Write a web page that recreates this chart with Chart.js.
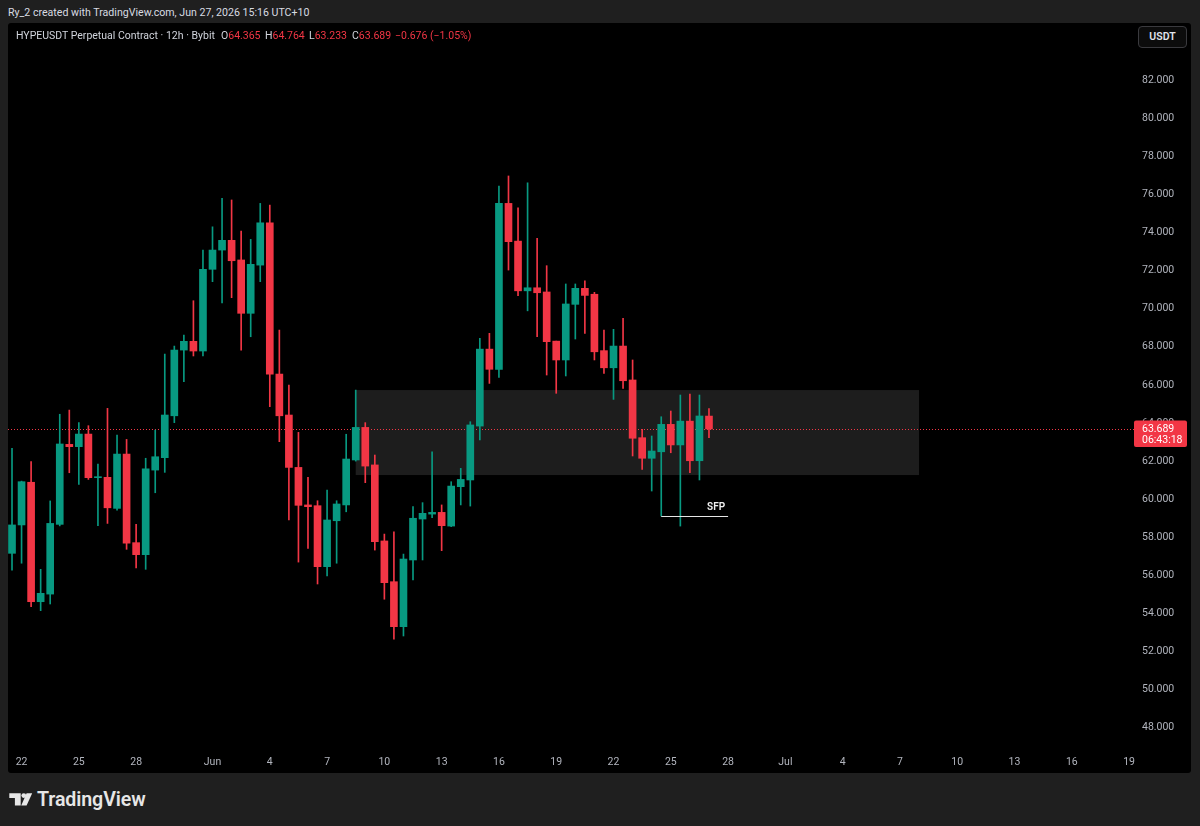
<!DOCTYPE html>
<html>
<head>
<meta charset="utf-8">
<script src="https://cdn.jsdelivr.net/npm/chart.js@4.4.1/dist/chart.umd.min.js"></script>
<style>
html,body{margin:0;padding:0;background:#1f1f1f;width:1200px;height:826px;overflow:hidden;font-family:Roboto,"Noto Sans",sans-serif;}
#wrap{position:absolute;left:8px;top:23px;width:1183px;height:750px;background:#000;border-radius:3px;overflow:hidden;}
#c{position:absolute;left:0;top:0;}
.t{position:absolute;white-space:nowrap;line-height:14px;}
.hd{font-size:10.5px;color:#d1d4dc;}
.r{color:#f23645;}
#usdt{position:absolute;left:1138px;top:26px;width:47px;height:20px;border:1px solid #3a3a3e;border-radius:4px;background:#0c0c0c;color:#e0e3eb;font-size:10.5px;font-weight:600;line-height:20px;text-align:center;}
#logo{position:absolute;left:37px;top:787px;font-size:19.6px;font-weight:600;color:#e6e6e6;line-height:26px;letter-spacing:-0.1px;}
</style>
</head>
<body>
<div class="t" style="left:8px;top:6px;font-size:10.6px;color:#d8dbe2;">Ry_2 created with TradingView.com, Jun 27, 2026 15:16 UTC+10</div>
<div id="wrap"><canvas id="c" width="1183" height="750"></canvas></div>
<div class="t hd" style="left:16px;top:29px;">HYPEUSDT Perpetual Contract · 12h · Bybit</div>
<div class="t hd" style="left:221px;top:29px;">O<span class="r">64.365</span></div>
<div class="t hd" style="left:265px;top:29px;">H<span class="r">64.764</span></div>
<div class="t hd" style="left:309px;top:29px;">L<span class="r">63.233</span></div>
<div class="t hd" style="left:352px;top:29px;">C<span class="r">63.689</span></div>
<div class="t hd r" style="left:395px;top:29px;">−0.676 (−1.05%)</div>
<div id="usdt">USDT</div>
<svg style="position:absolute;left:9px;top:793px" width="24" height="13" viewBox="0 0 24 13">
<path d="M0.3 0.3H11.7V12.5H5.9V4.9H0.3Z" fill="#e6e6e6"/>
<circle cx="14.8" cy="2.6" r="2.4" fill="#e6e6e6"/>
<path d="M17.6 0.3H23.2L17.6 12.5H12.2Z" fill="#e6e6e6"/>
</svg>
<div id="logo">TradingView</div>
<script>
// ---- data (12h candles, HYPEUSDT, from May 21 22:00 to Jun 27 10:00 UTC+10) ----
const candleOpen = [57.16,58.65,60.89,54.62,55.02,58.68,62.88,62.76,63.42,61.13,
  61.15,59.52,62.37,57.72,57.09,61.53,62.18,64.38,67.83,68.29,
  67.78,72.07,73.08,73.59,72.56,69.76,72.29,74.51,66.57,64.42,
  61.67,59.70,59.66,56.46,58.87,59.70,62.06,63.77,61.80,57.81,
  55.67,53.31,56.81,58.96,59.22,59.31,58.59,60.66,61.01,63.84,
  67.88,66.82,75.53,73.55,70.94,71.10,70.88,68.30,67.31,70.23,
  71.07,70.76,67.80,66.90,68.04,66.26,63.23,62.15,62.49,63.93,
  62.85,64.10,62.02,64.365];
const candleHigh = [62.67,60.95,61.97,56.32,59.91,64.46,64.68,64.02,63.86,61.85,
  64.77,63.37,63.14,58.68,62.15,63.63,67.62,68.04,68.62,70.42,
  73.08,74.30,75.80,75.71,74.08,73.64,75.53,75.44,68.88,65.99,
  63.51,61.15,59.92,60.48,59.92,63.41,65.73,64.02,62.32,58.17,
  58.29,57.12,59.61,59.82,62.49,59.70,60.92,61.62,64.07,68.45,
  68.71,76.44,76.97,75.30,76.61,73.70,72.26,68.30,71.30,71.30,
  71.47,70.86,68.88,68.92,69.50,67.31,63.67,63.32,64.33,64.63,
  65.47,65.52,65.47,64.764];
const candleLow = [56.28,56.64,54.36,54.15,54.50,58.60,61.39,60.78,61.04,58.61,
  58.73,59.43,57.37,56.40,56.32,60.34,61.41,64.02,66.17,67.52,
  67.52,71.42,70.31,70.58,67.83,68.53,71.42,64.86,63.02,58.91,
  56.70,57.42,55.55,55.98,56.64,59.34,62.00,60.87,57.33,54.75,
  52.65,52.82,55.76,56.81,59.03,57.30,58.56,59.70,59.64,63.11,
  66.08,66.40,72.03,70.68,69.89,68.53,66.52,65.56,66.47,68.41,
  68.71,67.31,66.61,65.24,65.82,62.27,61.57,60.43,59.12,62.44,
  58.59,61.39,61.01,63.233];
const candleClose = [58.65,60.92,54.62,55.06,58.73,62.90,62.76,63.42,61.13,61.18,
  59.55,62.37,57.69,57.09,61.59,62.23,64.42,67.83,68.29,67.78,
  72.07,73.08,73.59,72.52,69.76,72.33,74.51,66.56,64.38,61.67,
  59.68,59.61,56.46,58.91,59.75,62.11,63.77,61.74,57.77,55.62,
  53.31,56.86,59.00,59.26,59.31,58.61,60.69,61.04,63.90,67.88,
  66.82,75.53,73.52,70.94,71.10,70.84,68.27,67.31,70.25,71.07,
  70.70,67.74,66.90,68.04,66.22,63.20,62.15,62.53,63.93,62.85,
  64.10,62.02,64.37,63.689];

// time-axis labels: day offset from May 22, and their text
const tickDays = [0,3,6,10,13,16,19,22,25,28,31,34,37,40,43,46,49,52,55,58];
const tickLabels = ["22","25","28","Jun","4","7","10","13","16","19","22","25","28","Jul","4","7","10","13","16","19"];
// price-axis labels
const priceTicks = [48,50,52,54,56,58,60,62,64,66,68,70,72,74,76,78,80,82];

// drawings
const zoneTop = 65.73, zoneBottom = 61.27, zoneStartBar = 36, zoneEndBar = 95;
const sfpLevel = 59.12, sfpStartBar = 68, sfpEndBar = 75;
const lastClose = 63.689, countdown = "06:43:18";

// ---- chart ----
const UP = '#089981', DOWN = '#f23645';
const colors = candleOpen.map((o,i)=> candleClose[i] >= o ? UP : DOWN);
const dayToBar = d => 1 + 2*d;   // first bar of each day
const tickMap = {};
tickDays.forEach((d,i)=>{ tickMap[dayToBar(d)] = tickLabels[i]; });

Chart.defaults.font.family = 'Roboto, "Noto Sans", sans-serif';
Chart.defaults.font.size = 10.5;

const overlay = {
  id: 'overlay',
  beforeDatasetsDraw(chart){
    const {ctx, chartArea:a, scales:{x,y}} = chart;
    ctx.save();
    const x0 = x.getPixelForValue(zoneStartBar), x1 = x.getPixelForValue(zoneEndBar);
    const y0 = y.getPixelForValue(zoneTop), y1 = y.getPixelForValue(zoneBottom);
    ctx.fillStyle = 'rgba(255,255,255,0.115)';
    ctx.fillRect(x0, y0, x1-x0, y1-y0);
    const py = Math.round(y.getPixelForValue(lastClose)) + 0.5;
    ctx.strokeStyle = DOWN; ctx.lineWidth = 1; ctx.setLineDash([1,2]);
    ctx.beginPath(); ctx.moveTo(a.left, py); ctx.lineTo(a.right, py); ctx.stroke();
    ctx.restore();
  },
  afterDraw(chart){
    const {ctx, chartArea:a, scales:{x,y}} = chart;
    ctx.save();
    // SFP marker
    const sy = Math.round(y.getPixelForValue(sfpLevel)) + 0.5;
    const sx0 = x.getPixelForValue(sfpStartBar), sx1 = x.getPixelForValue(sfpEndBar);
    ctx.strokeStyle = '#e6e6e6'; ctx.lineWidth = 1;
    ctx.beginPath(); ctx.moveTo(sx0, sy); ctx.lineTo(sx1, sy); ctx.stroke();
    ctx.fillStyle = '#f0f0f0';
    ctx.font = '600 10px Roboto, "Noto Sans", sans-serif';
    ctx.textAlign = 'right'; ctx.textBaseline = 'middle';
    ctx.fillText('SFP', sx1 - 3, sy - 9);
    // last price tag
    const py = y.getPixelForValue(lastClose);
    ctx.fillStyle = DOWN;
    ctx.beginPath();
    ctx.roundRect(a.right - 1, py - 8.5, 53, 26.5, 2);
    ctx.fill();
    ctx.fillStyle = '#ffffff';
    ctx.font = '10.5px Roboto, "Noto Sans", sans-serif';
    ctx.textAlign = 'left';
    ctx.fillText(lastClose.toFixed(3), a.right + 7, py);
    ctx.fillText(countdown, a.right + 7, py + 11.5);
    ctx.restore();
  }
};

new Chart(document.getElementById('c'), {
  type: 'bar',
  data: {
    datasets: [
      {
        label: 'wick',
        data: candleLow.map((l,i)=>({x:i, y:[l, candleHigh[i]]})),
        backgroundColor: colors,
        barThickness: 1,
        grouped: false,
        order: 2,
        borderWidth: 0
      },
      {
        label: 'body',
        data: candleOpen.map((o,i)=>({x:i, y:[o, candleClose[i]]})),
        backgroundColor: colors,
        barThickness: 7,
        minBarLength: 1,
        grouped: false,
        order: 1,
        borderWidth: 0
      }
    ]
  },
  options: {
    responsive: false,
    animation: false,
    events: [],
    layout: { padding: 0 },
    plugins: { legend: {display:false}, tooltip: {enabled:false} },
    scales: {
      x: {
        type: 'linear',
        position: 'bottom',
        offset: false,
        min: -0.42,
        max: 117.62,
        grid: { display:false, drawTicks:false, offset:false },
        border: { display:false },
        afterFit(s){ s.height = 25; s.paddingLeft = 0; s.paddingRight = 0; },
        afterBuildTicks(s){ s.ticks = tickDays.map(d=>({value: dayToBar(d)})); },
        ticks: {
          autoSkip: false, maxRotation: 0, padding: 8, color: '#b2b5be',
          callback: v => tickMap[v] ?? ''
        }
      },
      y: {
        type: 'linear',
        position: 'right',
        min: 46.94,
        max: 85.0,
        grid: { display:false, drawTicks:false },
        border: { display:false },
        afterFit(s){ s.width = 56; s.paddingTop = 0; s.paddingBottom = 0; },
        afterBuildTicks(s){ s.ticks = priceTicks.map(v=>({value:v})); },
        ticks: {
          padding: 7, color: '#b2b5be', crossAlign: 'near',
          callback: v => Number(v).toFixed(3)
        }
      }
    }
  },
  plugins: [overlay]
});
</script>
</body>
</html>
